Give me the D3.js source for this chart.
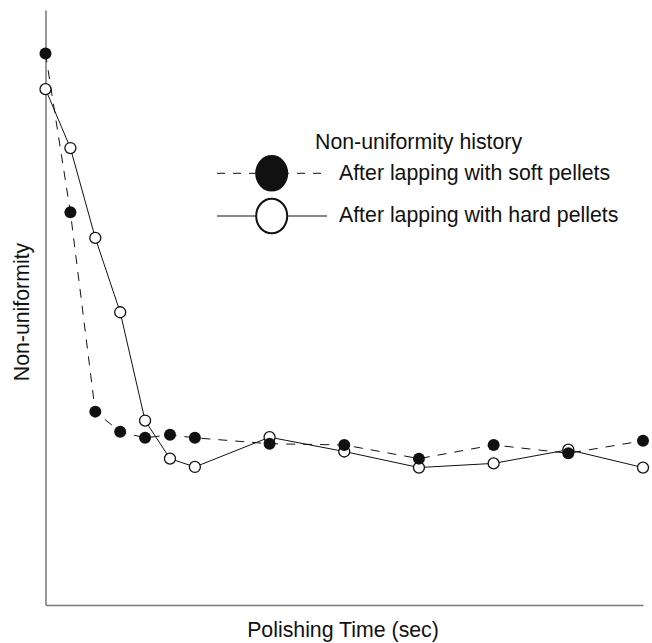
<!DOCTYPE html>
<html>
<head>
<meta charset="utf-8">
<script src="https://cdn.jsdelivr.net/npm/d3@7"></script>
<style>
  body { margin: 0; background: #fff; }
  text { font-family: "Liberation Sans", Arial, sans-serif; fill: #111; }
</style>
</head>
<body>
<script>
// polishing time steps (arbitrary units, no ticks shown)
var times = [0, 1, 2, 3, 4, 5, 6, 9, 12, 15, 18, 21, 24];
var softPellets = [92.7, 66.0, 32.5, 29.1, 28.1, 28.6, 28.1, 27.1, 26.9, 24.6, 26.9, 25.5, 27.6];
var hardPellets = [86.7, 76.8, 61.7, 49.2, 31.0, 24.6, 23.2, 28.2, 25.8, 23.1, 23.8, 26.1, 23.1];

var width = 652, height = 643;
var margin = {top: 10, right: 9, bottom: 38, left: 45.5};
var fontSize = "21.3px";

var svg = d3.select("body").append("svg")
    .attr("width", width)
    .attr("height", height);

var x = d3.scaleLinear()
    .domain([0, 24])
    .range([margin.left, width - margin.right]);

var y = d3.scaleLinear()
    .domain([0, 100])
    .range([height - margin.bottom, margin.top]);

// axes, no ticks
svg.append("g")
    .attr("transform", "translate(0," + y(0) + ")")
    .call(d3.axisBottom(x).tickValues([]).tickSizeOuter(0))
    .select(".domain").attr("stroke", "#777").attr("stroke-width", 1.5);

svg.append("g")
    .attr("transform", "translate(" + x(0) + ",0)")
    .call(d3.axisLeft(y).tickValues([]).tickSizeOuter(0))
    .select(".domain").attr("stroke", "#777").attr("stroke-width", 1.5);

var line = d3.line()
    .x(function(d) { return x(d[0]); })
    .y(function(d) { return y(d[1]); });

var soft = d3.zip(times, softPellets),
    hard = d3.zip(times, hardPellets);

svg.append("path")
    .datum(soft)
    .attr("fill", "none")
    .attr("stroke", "#111")
    .attr("stroke-width", 1)
    .attr("stroke-dasharray", "9,8")
    .attr("d", line);

svg.append("path")
    .datum(hard)
    .attr("fill", "none")
    .attr("stroke", "#111")
    .attr("stroke-width", 1)
    .attr("d", line);

svg.selectAll("circle.hard")
    .data(hard)
  .enter().append("circle")
    .attr("class", "hard")
    .attr("cx", function(d) { return x(d[0]); })
    .attr("cy", function(d) { return y(d[1]); })
    .attr("r", 5.5)
    .attr("fill", "#fff")
    .attr("stroke", "#111")
    .attr("stroke-width", 1.3);

svg.selectAll("circle.soft")
    .data(soft)
  .enter().append("circle")
    .attr("class", "soft")
    .attr("cx", function(d) { return x(d[0]); })
    .attr("cy", function(d) { return y(d[1]); })
    .attr("r", 6)
    .attr("fill", "#111");

// axis titles
svg.append("text")
    .attr("x", 343)
    .attr("y", 637)
    .attr("text-anchor", "middle")
    .style("font-size", fontSize)
    .text("Polishing Time (sec)");

svg.append("text")
    .attr("transform", "translate(29,312)rotate(-90)")
    .attr("text-anchor", "middle")
    .style("font-size", fontSize)
    .text("Non-uniformity");

// legend
var legend = svg.append("g");

legend.append("text")
    .attr("x", 315)
    .attr("y", 148.5)
    .style("font-size", fontSize)
    .text("Non-uniformity history");

var items = [
  {label: "After lapping with soft pellets", dash: "8,8", fill: "#111", y: 173.3, base: 180.3},
  {label: "After lapping with hard pellets", dash: null, fill: "#fff", y: 216, base: 221.6}
];

var row = legend.selectAll("g.row")
    .data(items)
  .enter().append("g")
    .attr("class", "row");

row.append("line")
    .attr("x1", 217).attr("x2", 327)
    .attr("y1", function(d) { return d.y; })
    .attr("y2", function(d) { return d.y; })
    .attr("stroke", "#111")
    .attr("stroke-width", 1)
    .attr("stroke-dasharray", function(d) { return d.dash; });

row.append("ellipse")
    .attr("cx", 271.7)
    .attr("cy", function(d) { return d.y; })
    .attr("rx", 15.5)
    .attr("ry", 17.3)
    .attr("fill", function(d) { return d.fill; })
    .attr("stroke", "#111")
    .attr("stroke-width", 2);

row.append("text")
    .attr("x", 339)
    .attr("y", function(d) { return d.base; })
    .style("font-size", fontSize)
    .text(function(d) { return d.label; });
</script>
</body>
</html>
